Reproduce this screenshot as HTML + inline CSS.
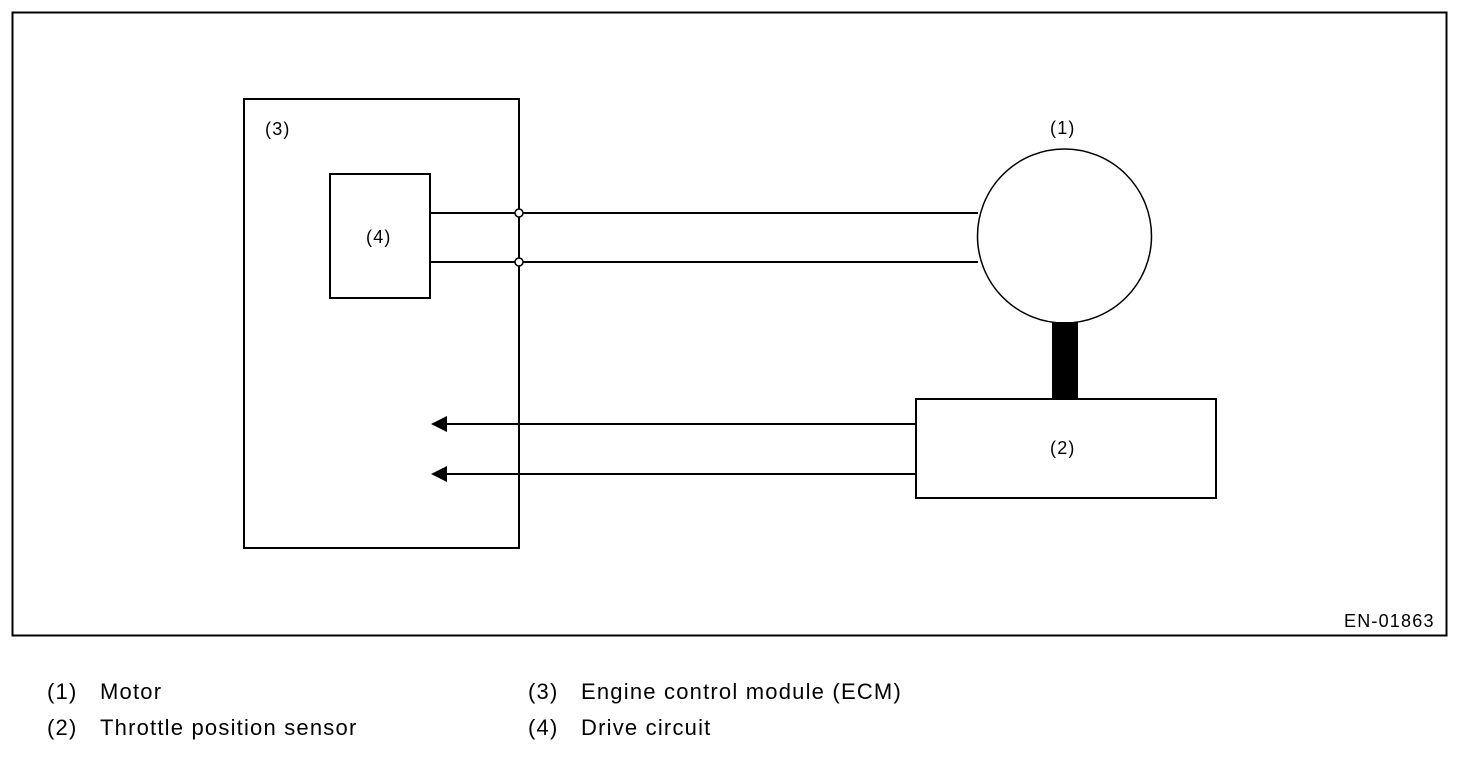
<!DOCTYPE html>
<html><head><meta charset="utf-8"><style>
html,body{margin:0;padding:0;background:#fff;}
body{width:1472px;height:758px;position:relative;overflow:hidden;font-family:"Liberation Sans",Arial,sans-serif;}
svg{position:absolute;left:0;top:0;}
.leg{position:absolute;font-size:22px;letter-spacing:1.2px;color:#000;line-height:24px;}
</style></head><body>
<svg width="1472" height="758" viewBox="0 0 1472 758">
<g fill="none" stroke="#000" stroke-width="2">
<rect x="12.5" y="12.5" width="1434" height="623"/>
<rect x="244" y="99" width="275" height="449"/>
<rect x="330" y="174" width="100" height="124"/>
<line x1="430" y1="213" x2="978" y2="213"/>
<line x1="430" y1="262" x2="978" y2="262"/>
<circle cx="1064.5" cy="236" r="87" stroke-width="1.5"/>
<rect x="916" y="399" width="300" height="99"/>
<line x1="445" y1="424" x2="916" y2="424"/>
<line x1="445" y1="474" x2="916" y2="474"/>
</g>
<rect x="1052" y="322" width="26" height="77" fill="#000"/>
<polygon points="431,424 447,416 447,432" fill="#000"/>
<polygon points="431,474 447,466 447,482" fill="#000"/>
<circle cx="519" cy="213" r="4" fill="#fff" stroke="#000" stroke-width="1.5"/>
<circle cx="519" cy="262" r="4" fill="#fff" stroke="#000" stroke-width="1.5"/>
<g font-family="Liberation Sans, Arial, sans-serif" font-size="18" letter-spacing="1.2" fill="#000">
<text x="265" y="135">(3)</text>
<text x="366" y="243">(4)</text>
<text x="1050" y="134">(1)</text>
<text x="1050" y="454">(2)</text>
<text x="1344" y="627">EN-01863</text>
</g>
</svg>
<div class="leg" style="left:47px;top:680px;">(1)</div>
<div class="leg" style="left:100px;top:680px;">Motor</div>
<div class="leg" style="left:47px;top:716px;">(2)</div>
<div class="leg" style="left:100px;top:716px;">Throttle position sensor</div>
<div class="leg" style="left:528px;top:680px;">(3)</div>
<div class="leg" style="left:581px;top:680px;">Engine control module (ECM)</div>
<div class="leg" style="left:528px;top:716px;">(4)</div>
<div class="leg" style="left:581px;top:716px;">Drive circuit</div>
</body></html>
